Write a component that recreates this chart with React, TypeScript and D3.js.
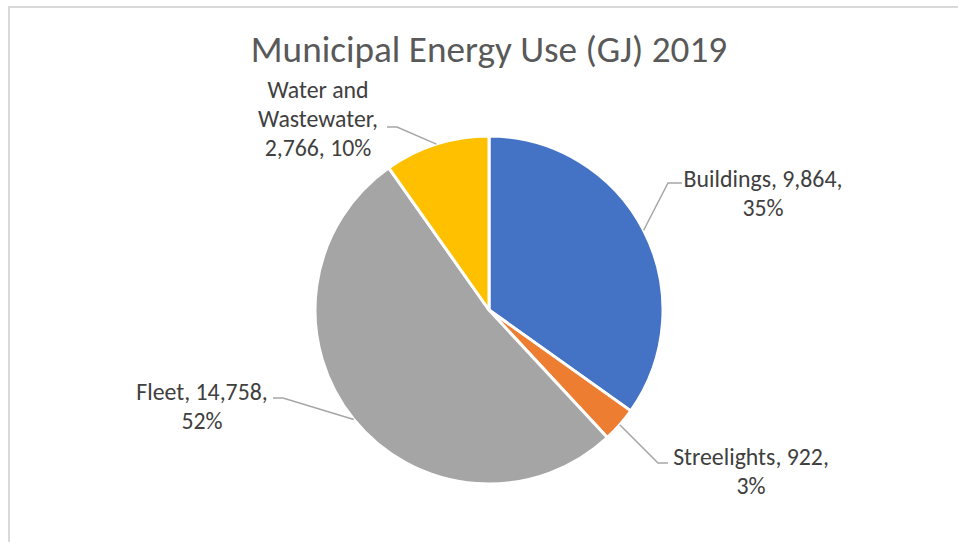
import React from "react";
import * as d3 from "d3";

const categories = ["Buildings", "Streelights", "Fleet", "Water and Wastewater"];
const values = [9864, 922, 14758, 2766];
const percents = ["35%", "3%", "52%", "10%"];
const colors = ["#4472C4", "#ED7D31", "#A5A5A5", "#FFC000"];
const labelLines = [
  ["Buildings, 9,864,", "35%"],
  ["Streelights, 922,", "3%"],
  ["Fleet, 14,758,", "52%"],
  ["Water and", "Wastewater,", "2,766, 10%"],
];

const W = 958;
const H = 542;
const cx = 489;
const cy = 310;
const R = 174;
const FONT = "Calibri, Carlito, Lato, 'Open Sans', sans-serif";

// layout for labels: text center x, first line baseline y, elbow, line end
const labelLayout = [
  { x: 763, y: 187, elbow: [668, 183], end: [682, 183] },
  { x: 751, y: 465, elbow: [658, 463], end: [668, 463] },
  { x: 202, y: 400, elbow: [283, 398], end: [273, 398] },
  { x: 318, y: 98, elbow: [397, 127], end: [387, 127] },
];
const lineH = 29;

export default function App() {
  const pie = d3.pie<number>().sort(null).value((d) => d);
  const arcs = pie(values);
  const arc = d3.arc<d3.PieArcDatum<number>>().innerRadius(0).outerRadius(R);

  return (
    <svg
      width={W}
      height={H}
      style={{ position: "absolute", left: 0, top: 0, background: "#fff" }}
    >
      <rect x={9} y={7} width={W + 20} height={H + 20} fill="#fff" stroke="#d9d9d9" strokeWidth={2} />
      <text
        x={489}
        y={62}
        textAnchor="middle"
        fontFamily={FONT}
        fontSize={37.2}
        fill="#595959"
      >
        Municipal Energy Use (GJ) 2019
      </text>
      <g transform={`translate(${cx},${cy})`}>
        {arcs.map((a, i) => (
          <path key={categories[i]} d={arc(a) || ""} fill={colors[i]} stroke="#fff" strokeWidth={3} strokeLinejoin="round" />
        ))}
      </g>
      {arcs.map((a, i) => {
        const mid = (a.startAngle + a.endAngle) / 2;
        const px = cx + R * Math.sin(mid);
        const py = cy - R * Math.cos(mid);
        const L = labelLayout[i];
        return (
          <polyline
            key={"l" + i}
            points={`${px},${py} ${L.elbow[0]},${L.elbow[1]} ${L.end[0]},${L.end[1]}`}
            fill="none"
            stroke="#a6a6a6"
            strokeWidth={1.5}
          />
        );
      })}
      {labelLines.map((lines, i) => {
        const L = labelLayout[i];
        return (
          <text
            key={"t" + i}
            textAnchor="middle"
            fontFamily={FONT}
            fontSize={23.8}
            fill="#404040"
            data-pct={percents[i]}
          >
            {lines.map((ln, j) => (
              <tspan key={j} x={L.x} y={L.y + j * lineH}>
                {ln}
              </tspan>
            ))}
          </text>
        );
      })}
    </svg>
  );
}
